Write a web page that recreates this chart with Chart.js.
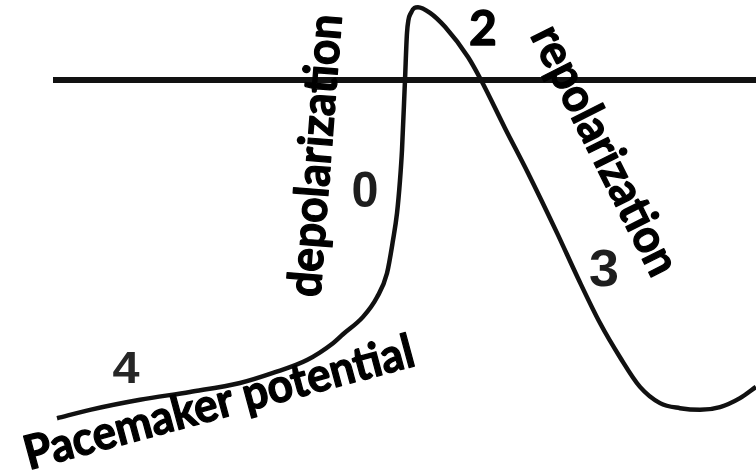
<!DOCTYPE html>
<html>
<head>
<meta charset="utf-8">
<script src="https://cdn.jsdelivr.net/npm/chart.js@4"></script>
<style>
  html, body { margin: 0; padding: 0; background: #fff; }
  #wrap { width: 756px; height: 472px; }
</style>
</head>
<body>
<div id="wrap"><canvas id="apChart"></canvas></div>
<script>
// pacemaker action potential, time (ms) vs membrane potential (mV)
const timeMs = [57, 90, 140, 190, 240, 273, 307, 333, 343, 363, 377, 387, 393, 397, 400, 402, 405, 407, 411, 418,
                430, 445, 468, 481, 505, 528, 557, 578, 600, 620, 640, 660, 680, 700, 720, 740, 756];
const potentialMv = [-60.4, -58.9, -57.1, -55.7, -54.1, -52.3, -50.0, -47.0, -45.4, -42.3, -38.8, -34.5, -28.6, -23.8, -17.9, -12.5, 0, 8.4, 12.0, 13.0,
                     12.0, 9.5, 4.1, 0, -8.6, -16.6, -27.3, -35.4, -43.4, -49.5, -54.8, -57.7, -58.6, -58.9, -58.4, -56.8, -54.8];
// zero line
const zeroLineMs = [53, 756];
const zeroLineMv = [0, 0];

// phase labels
const labelTexts = ['depolarization', 'repolarization', 'Pacemaker potential', '0', '2', '3', '4'];
const labelMs = [331, 591, 223, 365, 483, 604, 126];
const labelMv = [-13.7, -13.8, -60.3, -22.7, 6.25, -36.8, -54.1];

const labelStyles = [
  { angle: -85.6, font: 'bold 47px Lato', fit: 283, stroke: 1.3 },
  { angle: 63.3, font: 'bold 47px Lato', fit: 273, stroke: 1.3 },
  { angle: -15.1, font: 'bold 47px Lato', fit: 402, stroke: 1.3 },
  { angle: 0, font: 'bold 50px "Liberation Sans"', color: '#1e1e1e', fit: 27 },
  { angle: 0, font: 'bold 48px Lato', stroke: 1.3 },
  { angle: 0, font: 'bold 52px "Liberation Sans"', color: '#1e1e1e', fit: 30 },
  { angle: 0, font: 'bold 44px "Liberation Sans"', color: '#262626', fit: 27 }
];

const toPoints = (xs, ys) => xs.map((x, i) => ({ x: x, y: ys[i] }));

const phaseLabels = {
  id: 'phaseLabels',
  afterDatasetsDraw(chart) {
    const ctx = chart.ctx;
    const xs = chart.scales.x, ys = chart.scales.y;
    labelTexts.forEach((txt, i) => {
      const st = labelStyles[i];
      ctx.save();
      ctx.translate(xs.getPixelForValue(labelMs[i]), ys.getPixelForValue(labelMv[i]));
      ctx.rotate(st.angle * Math.PI / 180);
      ctx.font = st.font;
      ctx.fillStyle = st.color || '#000';
      ctx.strokeStyle = st.color || '#000';
      ctx.textAlign = 'center';
      ctx.textBaseline = 'alphabetic';
      if (st.fit) {
        const w = ctx.measureText(txt).width;
        ctx.scale(st.fit / w, 1);
      }
      ctx.fillText(txt, 0, 0);
      if (st.stroke) {
        ctx.lineWidth = st.stroke;
        ctx.lineJoin = 'round';
        ctx.strokeText(txt, 0, 0);
      }
      ctx.restore();
    });
  }
};

new Chart(document.getElementById('apChart'), {
  type: 'scatter',
  data: {
    datasets: [
      {
        data: toPoints(zeroLineMs, zeroLineMv),
        showLine: true,
        borderColor: '#111',
        borderWidth: 6,
        pointRadius: 0
      },
      {
        data: toPoints(timeMs, potentialMv),
        showLine: true,
        borderColor: '#111',
        borderWidth: 4.5,
        pointRadius: 0,
        cubicInterpolationMode: 'monotone'
      }
    ]
  },
  options: {
    responsive: true,
    maintainAspectRatio: false,
    animation: false,
    layout: { padding: 0 },
    plugins: { legend: { display: false }, tooltip: { enabled: false } },
    scales: {
      x: { type: 'linear', min: 0, max: 756, display: false },
      y: { type: 'linear', min: -70, max: 14.2857, display: false }
    }
  },
  plugins: [phaseLabels]
});
</script>
</body>
</html>
